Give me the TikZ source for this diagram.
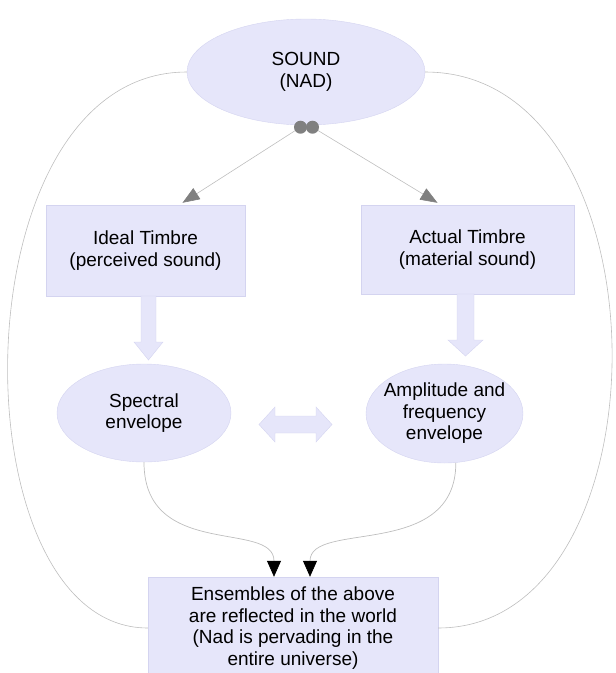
\documentclass[tikz,border=0pt]{standalone}
\usepackage{fontspec}
\setmainfont{Liberation Sans}
\usepackage{tikz}
\usetikzlibrary{shapes.geometric,arrows.meta}

\definecolor{lav}{RGB}{230,230,250}
\definecolor{lavline}{RGB}{212,212,240}
\definecolor{thinline}{RGB}{190,190,190}
\definecolor{dotgray}{RGB}{128,128,128}

\tikzset{
    box/.style={draw=lavline, fill=lav, rectangle, align=center},
    oval/.style={draw=lavline, fill=lav, ellipse, align=center},
    blockarrow/.style={draw=lavline, fill=lav},
    feed/.style={draw=thinline, line width=0.6pt},
    grayhead/.style={feed, -{Triangle[length=17pt,width=13pt,color=dotgray,fill=dotgray]}},
    blackhead/.style={draw=thinline, line width=0.7pt, -{Triangle[length=16pt,width=14pt,color=black,fill=black]}}
}

\begin{document}
\begin{tikzpicture}[x=1pt, y=-1pt, font=\fontsize{19}{21.5}\selectfont]
    \useasboundingbox (0,0) rectangle (616,673);

    % Draw the main nodes
    \node[oval, minimum width=238, minimum height=106] (sound) at (306,72) {SOUND\\(NAD)};
    \node[box, minimum width=199, minimum height=91] (ideal) at (145.5,250.5) {Ideal Timbre\\(perceived sound)};
    \node[box, minimum width=213, minimum height=89] (actual) at (467.5,249.5) {Actual Timbre\\(material sound)};
    \node[oval, minimum width=174, minimum height=98] (spectral) at (144,413) {Spectral\\envelope};
    \node[oval, minimum width=157, minimum height=99, inner xsep=-6pt, inner ysep=0pt] (ampl) at (444.5,413.5) {Amplitude and\\frequency\\envelope};
    \node[box, minimum width=290, minimum height=102, inner sep=0pt] (world) at (293,628) {Ensembles of the above\\are reflected in the world\\(Nad is pervading in the\\entire universe)};

    % Draw the two dots below SOUND
    \coordinate (dotL) at ([xshift=-5.5pt, yshift=-2pt]sound.south);
    \coordinate (dotR) at ([xshift=6.5pt, yshift=-2pt]sound.south);
    \draw[grayhead] (dotL) -- ([xshift=37pt, yshift=2pt]ideal.north);
    \draw[grayhead] (dotR) -- ([xshift=-30pt, yshift=2pt]actual.north);
    \fill[dotgray] (dotL) circle (6.5pt);
    \fill[dotgray] (dotR) circle (6.5pt);

    % Draw the block arrows
    \draw[blockarrow] (141,296) -- (156,296) -- (156,342) -- (163,342) -- (148.5,360)
        -- (134,342) -- (141,342) -- cycle;
    \draw[blockarrow] (457,294) -- (474,294) -- (474,340) -- (483,340) -- (465.5,356)
        -- (448,340) -- (457,340) -- cycle;
    \draw[blockarrow] (259,424.5) -- (275,407) -- (275,416) -- (316,416) -- (316,407)
        -- (332,424.5) -- (316,442) -- (316,433) -- (275,433) -- (275,442) -- cycle;

    % Draw the curves into the bottom box
    \draw[blackhead] (spectral.south) .. controls +(0,98) and +(0,-57) .. ([xshift=-19pt]world.north);
    \draw[blackhead] (ampl.-77) .. controls +(0,98) and +(0,-57) .. ([xshift=17pt]world.north);

    % Draw the outer loops
    \draw[feed] (sound.west) .. controls +(-232,0) and +(-193,0) .. (world.west);
    \draw[feed] (sound.east) .. controls +(247,0) and +(234,0) .. (world.east);

\end{tikzpicture}
\end{document}
